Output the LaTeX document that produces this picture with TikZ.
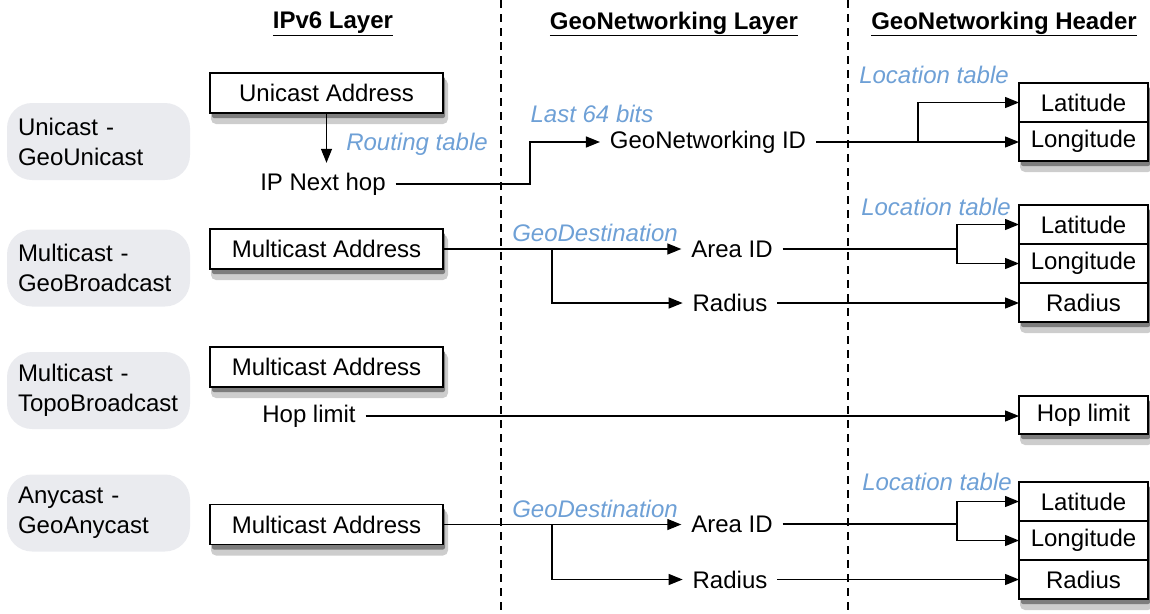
\documentclass[tikz,border=0pt]{standalone}
\usepackage{fontspec}
\setmainfont{Liberation Sans}
\usetikzlibrary{positioning,arrows.meta}
\definecolor{GNBlue}{RGB}{110,160,214}
\definecolor{GNGray}{RGB}{234,235,239}
\definecolor{GNShadow}{RGB}{125,125,125}
\definecolor{GNHalo}{RGB}{205,205,205}

\begin{document}
\begin{tikzpicture}[x=1pt, y=-1pt, every node/.style={font=\fontsize{24}{30}\selectfont, inner sep=0pt}, mode/.style={fill=GNGray, rounded corners=25pt, minimum width=183pt, minimum height=77pt, text width=161pt, align=left}, addr/.style={draw, line width=1.2pt, fill=white, minimum width=233pt, minimum height=40pt}, cell/.style={draw, line width=1.2pt, fill=white, minimum width=129pt, minimum height=39pt, outer sep=0pt}, field/.style={outer sep=10pt}, note/.style={text=GNBlue, font=\fontsize{24}{30}\selectfont\itshape}, title/.style={font=\fontsize{24}{30}\selectfont\bfseries}, arrow/.style={-{Triangle[length=14pt,width=11pt]}, line width=1.3pt}, layer/.style={dash pattern=on 8pt off 6pt, line width=1.2pt}]
\useasboundingbox (0,0) rectangle (1150,613);

% column titles and layer borders
\node[title] (ipv6) at (333,24) {\underline{IPv6 Layer}};
\node[title] (gnlayer) at (674,24) {\underline{GeoNetworking Layer}};
\node[title] (gnheader) at (1004,24) {\underline{GeoNetworking Header}};
\draw[layer] (501,0) -- (501,613);
\draw[layer] (848,0) -- (848,613);

% shadows under the boxes
\foreach \xa/\ya/\xb/\yb in {210/73/443/113, 210/229/443/269, 210/347/443/387, 210/504.5/443/544.5, 1019/83/1148/161, 1019/205/1148/322, 1019/396/1148/434, 1019/482/1148/599}{
  \fill[GNHalo, rounded corners=5pt] (\xa+1,\ya+6) rectangle (\xb+5,\yb+11);
  \fill[GNShadow, rounded corners=2pt] (\xa+2,\ya+4) rectangle (\xb+2,\yb+5);
}

% modes
\node[mode] (unicast) at (98.5,141.5) {Unicast -\\GeoUnicast};
\node[mode] (multicast) at (98.5,268) {Multicast -\\GeoBroadcast};
\node[mode] (topo) at (98.5,390.5) {Multicast -\\TopoBroadcast};
\node[mode] (anycast) at (98.5,513) {Anycast -\\GeoAnycast};

% IPv6 layer
\node[addr] (uniaddr) at (326.5,93) {Unicast Address};
\node[field] (nexthop) at (323,184) {IP Next hop};
\node[addr] (mcaddr) at (326.5,249) {Multicast Address};
\node[addr] (topoaddr) at (326.5,367) {Multicast Address};
\node[field] (hoplimit) at (309,416) {Hop limit};
\node[addr] (anyaddr) at (326.5,524.5) {Multicast Address};

% GeoNetworking layer
\node[field] (gnid) at (708,142) {GeoNetworking ID};
\node[field] (mcarea) at (732,249) {Area ID};
\node[field] (mcradius) at (730,303) {Radius};
\node[field] (anyarea) at (732,524) {Area ID};
\node[field] (anyradius) at (730,579.5) {Radius};

% GeoNetworking header
\node[cell] (unilat) at (1083.5,102.5) {Latitude};
\node[cell, below=0pt of unilat] (unilon) {Longitude};
\node[cell] (mclat) at (1083.5,224.5) {Latitude};
\node[cell, below=0pt of mclat] (mclon) {Longitude};
\node[cell, below=0pt of mclon] (mcrad) {Radius};
\node[cell, minimum height=38pt] (hopcell) at (1083.5,415) {Hop limit};
\node[cell] (anylat) at (1083.5,501.5) {Latitude};
\node[cell, below=0pt of anylat] (anylon) {Longitude};
\node[cell, below=0pt of anylon] (anyrad) {Radius};

% notes
\node[note] (routing) at (417,144) {Routing table};
\node[note] (last64) at (592,114) {Last 64 bits};
\node[note] (uniloc) at (934,75) {Location table};
\node[note] (mcdest) at (595,233) {GeoDestination};
\node[note] (mcloc) at (936,207) {Location table};
\node[note] (anydest) at (595,509) {GeoDestination};
\node[note] (anyloc) at (937,482) {Location table};

% bends
\coordinate (step1) at (530,163);
\coordinate (fork1) at (918,0);
\coordinate (split1) at (552,249);
\coordinate (split2) at (552,524);
\coordinate (fork2) at (957,0);

% unicast
\draw[arrow] (uniaddr.south) -- (uniaddr.south |- nexthop.north);
\draw[arrow] (nexthop.east) -| (step1) |- (gnid.west);
\draw[arrow] (gnid.east) -- (gnid.east -| unilon.west);
\draw[arrow] (fork1 |- gnid.east) |- (unilat.west);

% multicast
\draw[arrow] (mcaddr.east) -- (mcaddr.east -| mcarea.west);
\draw[arrow] (split1) |- (mcradius.west);
\draw[arrow] (mcarea.east) -| (fork2 |- mclat.west) -- (mclat.west);
\draw[arrow] (fork2 |- mcarea.east) |- (mclon.west);
\draw[arrow] (mcradius.east) -- (mcradius.east -| mcrad.west);

% topo broadcast
\draw[arrow] (hoplimit.east) -- (hoplimit.east -| hopcell.west);

% anycast
\draw[arrow] (anyaddr.east) -- (anyaddr.east -| anyarea.west);
\draw[arrow] (split2) |- (anyradius.west);
\draw[arrow] (anyarea.east) -| (fork2 |- anylat.west) -- (anylat.west);
\draw[arrow] (fork2 |- anyarea.east) |- (anylon.west);
\draw[arrow] (anyradius.east) -- (anyradius.east -| anyrad.west);
\end{tikzpicture}
\end{document}
